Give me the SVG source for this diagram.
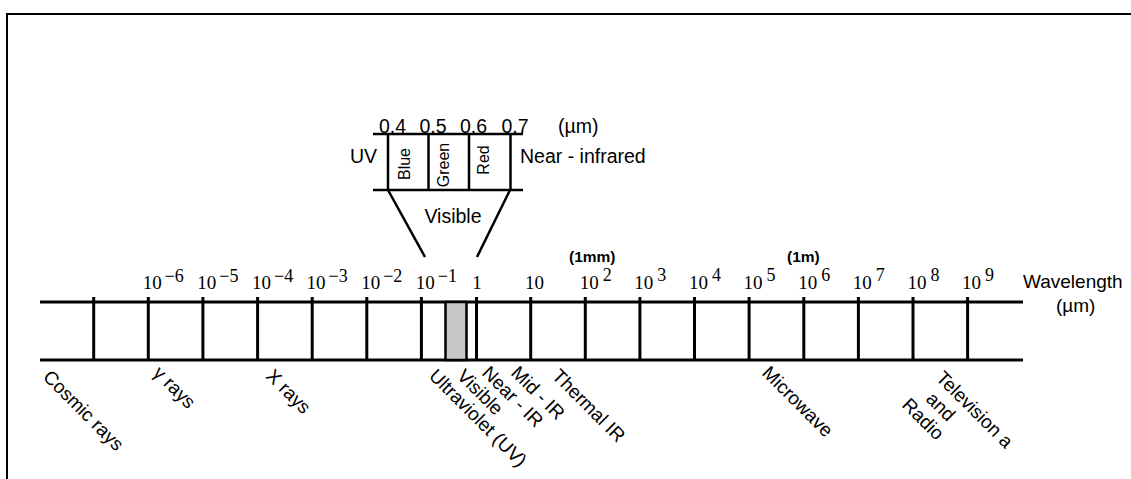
<svg xmlns="http://www.w3.org/2000/svg" width="1131" height="479" viewBox="0 0 1131 479">
<style>
.ln{stroke:#000;stroke-width:3;fill:none}
.thin{stroke:#000;stroke-width:2.5;fill:none}
.frame{stroke:#000;stroke-width:2;fill:none}
.num{font-family:"Liberation Serif",serif;font-size:19px;fill:#000}
.sup{font-size:18px}
.sans{font-family:"Liberation Sans",Arial,sans-serif;fill:#000}
.ins{font-size:19.5px}
.wl{font-size:19px}
.cell{font-size:16px}
.band{font-size:19px}
.note{font-size:15.5px;font-weight:bold}
</style>
<rect width="1131" height="479" fill="#fff"/>
<path class="frame" d="M7,479 V14 H1131"/>

<g id="connectors">
  <line class="ln" x1="40" y1="302" x2="1023" y2="302"/>
  <line class="ln" x1="40" y1="360" x2="1023" y2="360"/>
  <g id="ticks">
    <line class="ln" x1="93.7" y1="297" x2="93.7" y2="360"/>
    <line class="ln" x1="148.3" y1="297" x2="148.3" y2="360"/>
    <line class="ln" x1="202.9" y1="297" x2="202.9" y2="360"/>
    <line class="ln" x1="257.6" y1="297" x2="257.6" y2="360"/>
    <line class="ln" x1="312.2" y1="297" x2="312.2" y2="360"/>
    <line class="ln" x1="366.8" y1="297" x2="366.8" y2="360"/>
    <line class="ln" x1="421.4" y1="297" x2="421.4" y2="360"/>
    <line class="ln" x1="476.5" y1="297" x2="476.5" y2="360"/>
    <line class="ln" x1="530.7" y1="297" x2="530.7" y2="360"/>
    <line class="ln" x1="585.3" y1="297" x2="585.3" y2="360"/>
    <line class="ln" x1="639.9" y1="297" x2="639.9" y2="360"/>
    <line class="ln" x1="694.5" y1="297" x2="694.5" y2="360"/>
    <line class="ln" x1="749.1" y1="297" x2="749.1" y2="360"/>
    <line class="ln" x1="803.8" y1="297" x2="803.8" y2="360"/>
    <line class="ln" x1="858.4" y1="297" x2="858.4" y2="360"/>
    <line class="ln" x1="913" y1="297" x2="913" y2="360"/>
    <line class="ln" x1="967.6" y1="297" x2="967.6" y2="360"/>
  </g>
  <line class="thin" x1="388" y1="190" x2="425" y2="257"/>
  <line class="thin" x1="510" y1="190" x2="477" y2="257"/>
</g>

<g id="visible-band">
  <rect x="445.5" y="302" width="21" height="58" fill="#c8c8c8" stroke="#000" stroke-width="2.5"/>
</g>

<g id="scale-labels">
  <text class="num" x="142.7" y="289">10<tspan class="sup" dx="3" dy="-7">−6</tspan></text>
  <text class="num" x="197.3" y="289">10<tspan class="sup" dx="3" dy="-7">−5</tspan></text>
  <text class="num" x="252" y="289">10<tspan class="sup" dx="3" dy="-7">−4</tspan></text>
  <text class="num" x="306.6" y="289">10<tspan class="sup" dx="3" dy="-7">−3</tspan></text>
  <text class="num" x="361.2" y="289">10<tspan class="sup" dx="3" dy="-7">−2</tspan></text>
  <text class="num" x="415.8" y="289">10<tspan class="sup" dx="3" dy="-7">−1</tspan></text>
  <text class="num" x="477" y="289" text-anchor="middle">1</text>
  <text class="num" x="525" y="289">10</text>
  <text class="num" x="579.7" y="289">10<tspan class="sup" dx="4" dy="-8">2</tspan></text>
  <text class="num" x="634.3" y="289">10<tspan class="sup" dx="4" dy="-8">3</tspan></text>
  <text class="num" x="688.9" y="289">10<tspan class="sup" dx="4" dy="-8">4</tspan></text>
  <text class="num" x="743.5" y="289">10<tspan class="sup" dx="4" dy="-8">5</tspan></text>
  <text class="num" x="798.2" y="289">10<tspan class="sup" dx="4" dy="-8">6</tspan></text>
  <text class="num" x="852.8" y="289">10<tspan class="sup" dx="4" dy="-8">7</tspan></text>
  <text class="num" x="907.4" y="289">10<tspan class="sup" dx="4" dy="-8">8</tspan></text>
  <text class="num" x="962" y="289">10<tspan class="sup" dx="4" dy="-8">9</tspan></text>
  <text class="sans note" x="569" y="262">(1mm)</text>
  <text class="sans note" x="787" y="262">(1m)</text>
  <text class="sans wl" x="1023" y="288">Wavelength</text>
  <text class="sans wl" x="1056" y="312">(µm)</text>
</g>

<g id="visible-inset">
  <line class="thin" x1="373" y1="134" x2="523" y2="134"/>
  <line class="thin" x1="373" y1="190" x2="523" y2="190"/>
  <line class="thin" x1="388" y1="134" x2="388" y2="190"/>
  <line class="thin" x1="428.5" y1="134" x2="428.5" y2="190"/>
  <line class="thin" x1="469" y1="134" x2="469" y2="190"/>
  <line class="thin" x1="510.5" y1="134" x2="510.5" y2="190"/>
  <text class="sans ins" x="379" y="133">0.4</text>
  <text class="sans ins" x="419.5" y="133">0.5</text>
  <text class="sans ins" x="460" y="133">0.6</text>
  <text class="sans ins" x="501.5" y="133">0.7</text>
  <text class="sans ins" x="558" y="133">(µm)</text>
  <text class="sans ins" x="350" y="163">UV</text>
  <text class="sans ins" x="520" y="163">Near - infrared</text>
  <text class="sans cell" transform="translate(404.5,164) rotate(-90)" text-anchor="middle" dominant-baseline="central">Blue</text>
  <text class="sans cell" transform="translate(443,165) rotate(-90)" text-anchor="middle" dominant-baseline="central">Green</text>
  <text class="sans cell" transform="translate(483,160) rotate(-90)" text-anchor="middle" dominant-baseline="central">Red</text>
  <text class="sans ins" x="453" y="223" text-anchor="middle">Visible</text>
</g>

<g id="bands">
  <text class="sans band" transform="translate(42,378) rotate(45)">Cosmic rays</text>
  <text class="sans band" transform="translate(152,374) rotate(45)">γ rays</text>
  <text class="sans band" transform="translate(265,377) rotate(45)">X rays</text>
  <text class="sans band" transform="translate(428,377) rotate(45)">Ultraviolet (UV)</text>
  <text class="sans band" transform="translate(456,377) rotate(45)">Visible</text>
  <text class="sans band" transform="translate(481,374) rotate(45)">Near - IR</text>
  <text class="sans band" transform="translate(510,374) rotate(45)">Mid - IR</text>
  <text class="sans band" transform="translate(551,377) rotate(45)">Thermal IR</text>
  <text class="sans band" transform="translate(761,374) rotate(45)">Microwave</text>
  <text class="sans band" transform="translate(935,379) rotate(45)">Television a</text>
  <text class="sans band" transform="translate(925,400) rotate(45)">and</text>
  <text class="sans band" transform="translate(901,406) rotate(45)">Radio</text>
</g>
</svg>
